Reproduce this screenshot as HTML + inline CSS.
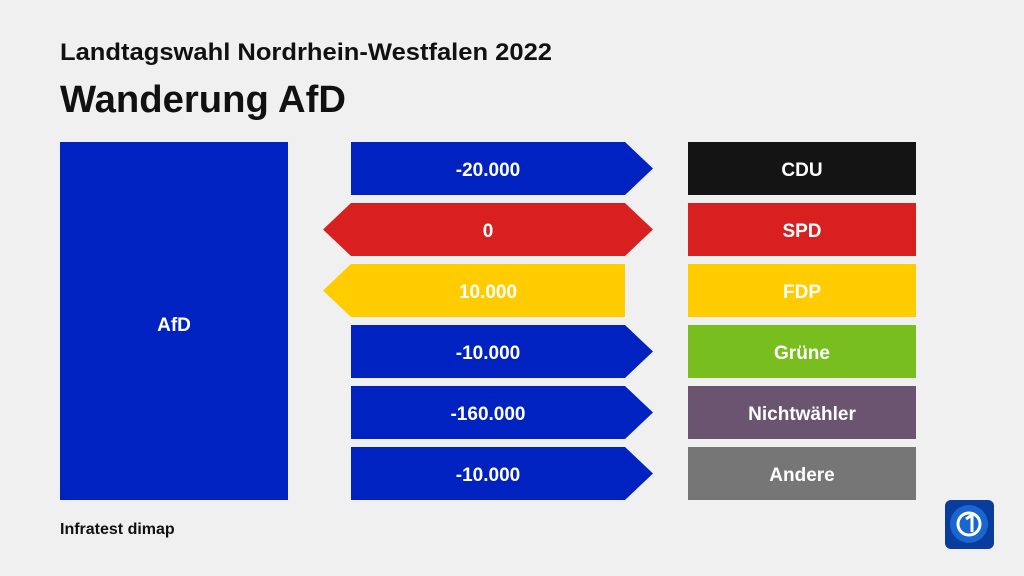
<!DOCTYPE html>
<html><head><meta charset="utf-8"><style>
body{margin:0;width:1024px;height:576px;background:#f0f0f0;overflow:hidden}
svg{display:block}
text{font-family:"Liberation Sans",sans-serif;font-weight:bold}
</style></head><body>
<svg width="1024" height="576" viewBox="0 0 1024 576">
<rect width="1024" height="576" fill="#f0f0f0"/>
<text x="60" y="60" font-size="24" fill="#111" textLength="492" lengthAdjust="spacingAndGlyphs">Landtagswahl Nordrhein-Westfalen 2022</text>
<text x="60" y="112" font-size="38" fill="#111" textLength="286" lengthAdjust="spacingAndGlyphs">Wanderung AfD</text>
<rect x="60" y="142" width="228" height="358" fill="#0022c0"/>
<text x="174" y="331" font-size="19" fill="#fff" text-anchor="middle">AfD</text>
<g font-size="19" fill="#fff" text-anchor="middle">
<polygon points="351,142 625,142 653,168.5 625,195 351,195" fill="#0022c0"/>
<text x="488" y="176">-20.000</text>
<polygon points="351,203 625,203 653,229.5 625,256 351,256 323,229.5" fill="#d7201f"/>
<text x="488" y="237">0</text>
<polygon points="351,264 625,264 625,317 351,317 323,290.5" fill="#ffcc00"/>
<text x="488" y="298">10.000</text>
<polygon points="351,325 625,325 653,351.5 625,378 351,378" fill="#0022c0"/>
<text x="488" y="359">-10.000</text>
<polygon points="351,386 625,386 653,412.5 625,439 351,439" fill="#0022c0"/>
<text x="488" y="420">-160.000</text>
<polygon points="351,447 625,447 653,473.5 625,500 351,500" fill="#0022c0"/>
<text x="488" y="481">-10.000</text>

<rect x="688" y="142" width="228" height="53" fill="#141414"/><text x="802" y="176">CDU</text>
<rect x="688" y="203" width="228" height="53" fill="#d7201f"/><text x="802" y="237">SPD</text>
<rect x="688" y="264" width="228" height="53" fill="#ffcc00"/><text x="802" y="298">FDP</text>
<rect x="688" y="325" width="228" height="53" fill="#78be1e"/><text x="802" y="359">Grüne</text>
<rect x="688" y="386" width="228" height="53" fill="#6a5470"/><text x="802" y="420">Nichtwähler</text>
<rect x="688" y="447" width="228" height="53" fill="#767676"/><text x="802" y="481">Andere</text>
</g>
<text x="60" y="534" font-size="16" fill="#111">Infratest dimap</text>
<rect x="945" y="500" width="49" height="49" rx="6" fill="#0a3c9c"/>
<circle cx="969" cy="524" r="19" fill="#1a66d0"/>
<circle cx="969" cy="524" r="11" fill="none" stroke="#fff" stroke-width="3"/>
<path d="M966 519 L972 515 L972 532" stroke="#fff" stroke-width="3" fill="none"/>
</svg>
</body></html>
